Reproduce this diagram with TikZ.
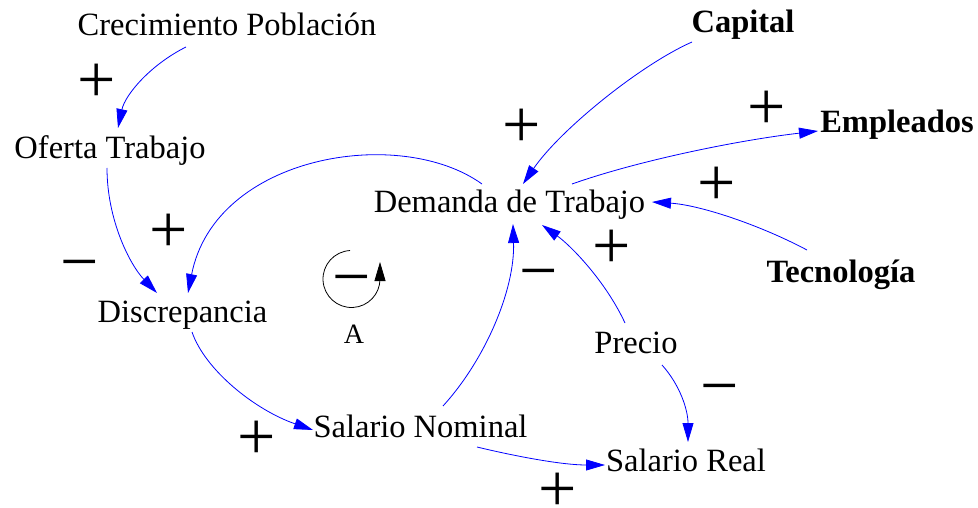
\documentclass[tikz,border=0pt]{standalone}
\usepackage{fontspec}
\setmainfont{Liberation Serif}
\usetikzlibrary{arrows.meta}
\tikzset{
  var/.style={inner sep=0pt, anchor=base, font=\fontsize{32.5}{36}\selectfont},
  bvar/.style={var, font=\fontsize{32.5}{36}\selectfont\bfseries},
  sign/.style={inner sep=0pt, anchor=center, text height=41pt, text depth=-6pt, font=\fontsize{68}{70}\selectfont},
  link/.style={draw=blue, line width=0.8pt, -{Triangle[length=19pt,width=11pt]}},
  loopline/.style={draw=black, line width=0.8pt, -{Triangle[length=19pt,width=11pt]}}
}
\begin{document}
\begin{tikzpicture}[x=1pt,y=-1pt]
\useasboundingbox (0,0) rectangle (978,508);
% variables
\node[var]  (cp) at (227,36)   {Crecimiento Población};
\node[var]  (of) at (110,159)  {Oferta Trabajo};
\node[var]  (di) at (182.5,322){Discrepancia};
\node[var]  (dt) at (509.5,213){Demanda de Trabajo};
\node[bvar] (ca) at (743,33)   {Capital};
\node[bvar] (em) at (897,133)  {Empleados};
\node[bvar] (te) at (841,282)  {Tecnología};
\node[var]  (pr) at (636,353)  {Precio};
\node[var]  (sn) at (420.5,437){Salario Nominal};
\node[var]  (sr) at (686,471)  {Salario Real};
\node[inner sep=0pt, anchor=base, font=\fontsize{28}{30}\selectfont] (la) at (354,343) {A};
% signs
\node[sign] (s1) at (97,82)   {+};
\node[sign] (s2) at (169,232) {+};
\node[sign] (s3) at (80,264)  {−};
\node[sign] (s4) at (522,127) {+};
\node[sign] (s5) at (767,109) {+};
\node[sign] (s6) at (717,185) {+};
\node[sign] (s7) at (612,248) {+};
\node[sign] (s8) at (539,273) {−};
\node[sign] (s9) at (720,388) {−};
\node[sign] (s10) at (257,439) {+};
\node[sign] (s11) at (558,491) {+};
\node[sign] (s12) at (351.5,279) {−};
% connectors
\draw[link] ([shift={(-41,11)}]cp.base) .. controls (150,65) and (125,95) .. ([shift={(8,-31)}]of.base);
\draw[link] ([shift={(-3,9)}]of.base) .. controls (107,220) and (130,265) .. ([shift={(-25.5,-29)}]di.base);
\draw[link] ([shift={(-27.5,-29)}]dt.base) .. controls (400,125) and (215,155) .. ([shift={(5.5,-29)}]di.base);
\draw[link] ([shift={(9.5,10)}]di.base) .. controls (205,370) and (255,410) .. ([shift={(-107.5,-7)}]sn.base);
\draw[link] ([shift={(22.5,-31)}]sn.base) .. controls (485,360) and (515,290) .. ([shift={(3.5,11)}]dt.base);
\draw[link] ([shift={(56.5,10)}]sn.base) .. controls (510,455) and (560,465) .. ([shift={(-81,-6)}]sr.base);
\draw[link] ([shift={(-11,-30)}]pr.base) .. controls (605,280) and (570,245) .. ([shift={(32.5,12)}]dt.base);
\draw[link] ([shift={(26,12)}]pr.base) .. controls (680,385) and (688,410) .. ([shift={(2,-29)}]sr.base);
\draw[link] ([shift={(-51,9)}]ca.base) .. controls (640,65) and (560,130) .. ([shift={(13.5,-29)}]dt.base);
\draw[link] ([shift={(62.5,-29)}]dt.base) .. controls (640,160) and (740,140) .. ([shift={(-79,-2)}]em.base);
\draw[link] ([shift={(-34,-32)}]te.base) .. controls (760,225) and (700,205) .. ([shift={(142.5,-11)}]dt.base);
% loop symbol
\coordinate (lc) at (351.5,279);
\draw[loopline] ([shift={(-93:28.5)}]lc) arc[start angle=-93, end angle=-360, radius=28.5] -- ++(0,-17);
\end{tikzpicture}
\end{document}
